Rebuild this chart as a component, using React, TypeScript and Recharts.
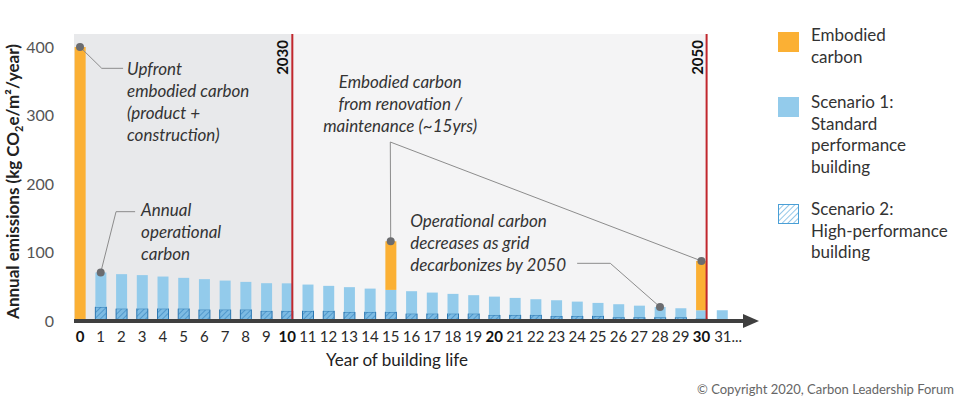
import React from 'react';
import {
  Bar,
  BarChart,
  Legend,
  ReferenceArea,
  ReferenceDot,
  ReferenceLine,
  XAxis,
  YAxis,
} from 'recharts';

const FONT = 'Lato, "Noto Sans", sans-serif';

const years = [
  0, 1, 2, 3, 4, 5, 6, 7, 8, 9, 10, 11, 12, 13, 14, 15,
  16, 17, 18, 19, 20, 21, 22, 23, 24, 25, 26, 27, 28, 29, 30, 31,
];
const embodied = [
  400, 0, 0, 0, 0, 0, 0, 0, 0, 0, 0, 0, 0, 0, 0, 71,
  0, 0, 0, 0, 0, 0, 0, 0, 0, 0, 0, 0, 0, 0, 72, 0,
];
const scenario1 = [
  0, 70.8, 68.4, 67, 64.9, 63, 61.1, 59, 57.1, 55.2, 55, 53.2, 51.3, 49.4, 47.3, 45.4,
  43.5, 41.5, 39.6, 37.7, 35.6, 33.7, 31.8, 30.3, 28.3, 26.4, 24.5, 22.4, 20.5, 18.6, 15.7, 15.7,
];
const scenario2 = [
  0, 20.5, 18, 18, 18, 18, 16.6, 16.6, 16.6, 14.7, 14.7, 14.7, 14.7, 13.2, 13.2, 13.2,
  10.7, 10.7, 10.7, 10.7, 8.8, 8.8, 8.8, 7.3, 7.3, 7.3, 5.4, 5.4, 5.4, 5.4, 3.4, 0,
];
const yTicks = [0, 100, 200, 300, 400];
const boldYears = [0, 10, 20, 30];
const milestones = ['2030', '2050'];
const legendLabels = [
  ['Embodied', 'carbon'],
  ['Scenario 1:', 'Standard', 'performance', 'building'],
  ['Scenario 2:', 'High-performance', 'building'],
];
const notes = [
  ['Upfront', 'embodied carbon', '(product +', 'construction)'],
  ['Annual', 'operational', 'carbon'],
  ['Embodied carbon', 'from renovation /', 'maintenance (~15yrs)'],
  ['Operational carbon', 'decreases as grid', 'decarbonizes by 2050'],
];

const data = years.map((year, i) => ({
  year,
  hatched: scenario2[i],
  standard: scenario1[i] - scenario2[i],
  embodied: embodied[i],
}));
const total = (i: number) => scenario1[i] + embodied[i];

const ORANGE = '#fbb034';
const BLUE = '#93cbeb';
const RED = '#c1272d';
const LEADER = '#8c8c8c';
const DOT = '#6b6c6f';

function YearTick({ x, y, payload }: any) {
  const v = payload.value;
  const last = v === years[years.length - 1];
  return (
    <text
      x={last ? x - 8 : x}
      y={y + 21}
      textAnchor={last ? 'start' : 'middle'}
      fontSize={15}
      fontFamily={FONT}
      fontWeight={boldYears.includes(v) ? 700 : 400}
      fill={boldYears.includes(v) ? '#111' : '#2a2a2a'}
    >
      {last ? `${v}...` : v}
    </text>
  );
}

function noteShape(lines: string[], anchor: 'start' | 'middle') {
  return ({ cx, cy }: any) => (
    <text
      x={cx}
      y={cy + 6}
      textAnchor={anchor}
      fontSize={17}
      fontStyle="italic"
      fontFamily={FONT}
      fill="#333"
    >
      {lines.map((l, i) => (
        <tspan key={i} x={cx} dy={i === 0 ? 0 : 22}>
          {l}
        </tspan>
      ))}
    </text>
  );
}

function milestoneLabel(text: string) {
  return ({ viewBox }: any) => {
    const x = viewBox.x - 4;
    const y = viewBox.y + 6;
    return (
      <text
        x={x}
        y={y}
        transform={`rotate(-90 ${x} ${y})`}
        textAnchor="end"
        fontSize={15}
        fontWeight={700}
        fontFamily={FONT}
        fill="#111"
      >
        {text}
      </text>
    );
  };
}

function Swatch({ kind }: { kind: number }) {
  if (kind === 0) return <div style={{ width: 21, height: 20, background: ORANGE }} />;
  if (kind === 1) return <div style={{ width: 21, height: 20, background: BLUE }} />;
  return (
    <svg width={21} height={20}>
      <defs>
        <pattern id="hatchLegend" width="4" height="4" patternUnits="userSpaceOnUse" patternTransform="rotate(45)">
          <rect width="4" height="4" fill="#fff" />
          <line x1="0" y1="0" x2="0" y2="4" stroke="#5aa9dc" strokeWidth="1.3" />
        </pattern>
      </defs>
      <rect x={0.5} y={0.5} width={20} height={19} fill="url(#hatchLegend)" stroke="#4a9fd6" />
    </svg>
  );
}

function LegendBox() {
  const tops = [0, 67, 174];
  const swatchTops = [8, 73, 180];
  return (
    <div style={{ position: 'relative', width: 183, height: 250, fontFamily: FONT, fontSize: 17, color: '#333', lineHeight: '21.5px' }}>
      {legendLabels.map((lines, i) => (
        <React.Fragment key={i}>
          <div style={{ position: 'absolute', left: 0, top: swatchTops[i] }}>
            <Swatch kind={i} />
          </div>
          <div style={{ position: 'absolute', left: 33, top: tops[i], whiteSpace: 'nowrap' }}>
            {lines.map((l) => (
              <div key={l}>{l}</div>
            ))}
          </div>
        </React.Fragment>
      ))}
    </div>
  );
}

export default function App() {
  const lead = { stroke: LEADER, strokeWidth: 1, ifOverflow: 'visible' as const };
  return (
    <div style={{ position: 'absolute', left: 0, top: 0, width: 961, height: 397, background: '#fff' }}>
      <BarChart
        width={961}
        height={397}
        data={data}
        margin={{ top: 34, right: 214, bottom: 0, left: 0 }}
        barSize={11}
      >
        <defs>
          <pattern id="hatch" width="4" height="4" patternUnits="userSpaceOnUse" patternTransform="rotate(45)">
            <rect width="4" height="4" fill="#7dbbe3" />
            <line x1="0" y1="0" x2="0" y2="4" stroke="#3a86c0" strokeWidth="1.3" />
          </pattern>
        </defs>
        <ReferenceArea x1={-0.29} x2={10.25} fill="#e8e9eb" fillOpacity={1} stroke="none" ifOverflow="visible" />
        <ReferenceArea x1={10.25} x2={30.25} fill="#f4f4f5" fillOpacity={1} stroke="none" ifOverflow="visible" />
        <XAxis
          type="number"
          dataKey="year"
          domain={[-0.29, 32.2]}
          ticks={years}
          interval={0}
          height={76}
          tickSize={0}
          tickMargin={0}
          tickLine={false}
          axisLine={{ stroke: '#3f3f3f', strokeWidth: 4 }}
          tick={YearTick}
          allowDataOverflow
          label={{
            content: ({ viewBox }: any) => (
              <text x={viewBox.x + 323} y={viewBox.y + 45} textAnchor="middle" fontSize={17} fontFamily={FONT} fill="#222">
                Year of building life
              </text>
            ),
          }}
        />
        <YAxis
          type="number"
          domain={[0, 419]}
          ticks={yTicks}
          width={74}
          tickSize={0}
          tickMargin={20}
          tickLine={false}
          axisLine={false}
          allowDataOverflow
          tick={{ fill: '#555', fontSize: 16, fontFamily: FONT }}
          label={{
            content: ({ viewBox }: any) => {
              const x = viewBox.x + 19;
              const y = viewBox.y + viewBox.height / 2 + 4;
              return (
                <text x={x} y={y} transform={`rotate(-90 ${x} ${y})`} textAnchor="middle" fontSize={17} fontWeight={700} fontFamily={FONT} fill="#222">
                  Annual emissions (kg CO
                  <tspan fontSize={11} dy={4}>2</tspan>
                  <tspan dy={-4}>e/m²/year)</tspan>
                </text>
              );
            },
          }}
        />
        <Bar dataKey="hatched" stackId="s" fill="url(#hatch)" stroke="#2b78b3" strokeWidth={1} isAnimationActive={false} />
        <Bar dataKey="standard" stackId="s" fill={BLUE} isAnimationActive={false} />
        <Bar dataKey="embodied" stackId="s" fill={ORANGE} isAnimationActive={false} />

        <ReferenceLine x={10.25} stroke={RED} strokeWidth={2} ifOverflow="visible" label={{ content: milestoneLabel(milestones[0]) }} />
        <ReferenceLine x={30.25} stroke={RED} strokeWidth={2} ifOverflow="visible" label={{ content: milestoneLabel(milestones[1]) }} />

        <ReferenceLine {...lead} segment={[{ x: 0, y: total(0) }, { x: 1.05, y: 368.9 }]} />
        <ReferenceLine {...lead} segment={[{ x: 1.05, y: 368.9 }, { x: 2.08, y: 368.9 }]} />
        <ReferenceLine {...lead} segment={[{ x: 1, y: total(1) }, { x: 1.74, y: 159.6 }]} />
        <ReferenceLine {...lead} segment={[{ x: 1.74, y: 159.6 }, { x: 2.66, y: 159.6 }]} />
        <ReferenceLine {...lead} segment={[{ x: 14.98, y: 261.3 }, { x: 15, y: total(15) }]} />
        <ReferenceLine {...lead} segment={[{ x: 14.98, y: 261.3 }, { x: 30, y: total(30) }]} />
        <ReferenceLine {...lead} segment={[{ x: 24.0, y: 84.2 }, { x: 25.6, y: 84.2 }]} />
        <ReferenceLine {...lead} segment={[{ x: 25.6, y: 84.2 }, { x: 28, y: total(28) }]} />

        {[0, 1, 15, 28, 30].map((yr) => (
          <ReferenceDot key={yr} x={yr} y={total(yr)} r={4} fill={DOT} stroke="none" ifOverflow="visible" />
        ))}

        <ReferenceDot x={2.27} y={367.9} ifOverflow="visible" shape={noteShape(notes[0], 'start')} />
        <ReferenceDot x={2.95} y={162} ifOverflow="visible" shape={noteShape(notes[1], 'start')} />
        <ReferenceDot x={15.46} y={349.3} ifOverflow="visible" shape={noteShape(notes[2], 'middle')} />
        <ReferenceDot x={15.94} y={146.4} ifOverflow="visible" shape={noteShape(notes[3], 'start')} />

        <ReferenceDot
          x={32.2}
          y={0}
          ifOverflow="visible"
          shape={({ cx, cy }: any) => (
            <polygon points={`${cx - 4},${cy - 7} ${cx + 12},${cy} ${cx - 4},${cy + 7}`} fill="#3f3f3f" />
          )}
        />

        <Legend
          layout="vertical"
          align="center"
          verticalAlign="middle"
          wrapperStyle={{ left: 778, top: 24, width: 183 }}
          content={() => <LegendBox />}
        />
      </BarChart>
      <div
        style={{
          position: 'absolute',
          left: 697,
          top: 381,
          fontFamily: FONT,
          fontSize: 13,
          lineHeight: '16px',
          color: '#666',
          whiteSpace: 'nowrap',
        }}
      >
        © Copyright 2020, Carbon Leadership Forum
      </div>
    </div>
  );
}
